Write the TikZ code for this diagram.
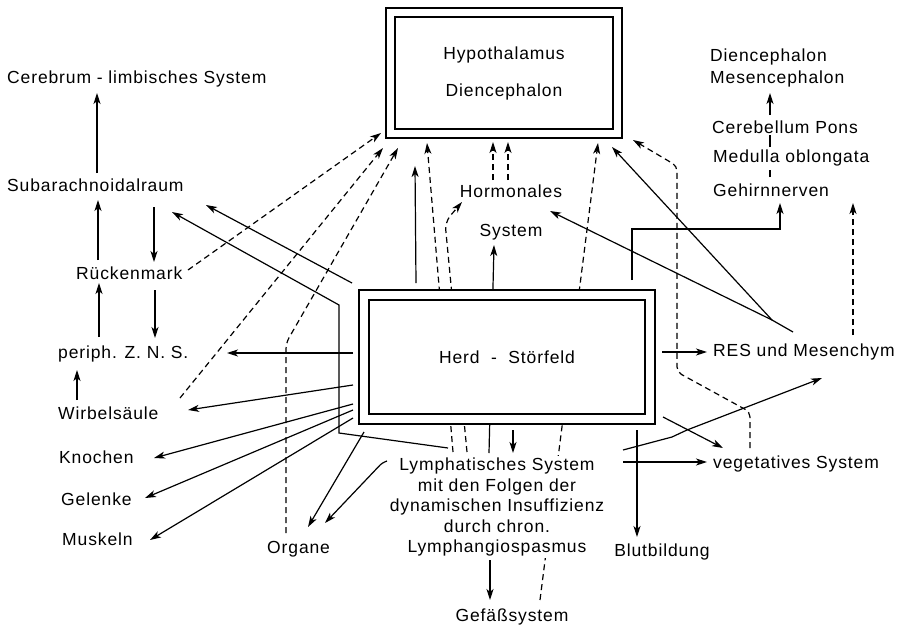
\documentclass[tikz,border=0pt]{standalone}
\usepackage{fontspec}
\setmainfont{Liberation Sans}[LetterSpace=5]
\usetikzlibrary{arrows.meta,calc}
\pgfdeclarelayer{bg}
\pgfsetlayers{bg,main}
\begin{document}
\begin{tikzpicture}[x=1pt,y=-1pt,
  txt/.style={inner sep=2pt, font=\fontsize{17.5}{20}\selectfont},
  ln/.style={line width=1.2pt},
  arr/.style={ln,-{Stealth[length=11pt,width=7pt,inset=3pt]}},
  dsh/.style={dash pattern=on 6pt off 4pt},
  dbox/.style={draw, double, line width=1.3pt, fill=white, font=\fontsize{17.5}{20}\selectfont}
]
\useasboundingbox (0,0) rectangle (902,627);

% boxes
\node[dbox, double distance=7.7pt, minimum width=227pt, minimum height=121pt, align=center] (hyp) at (504,73) {Hypothalamus\\[17pt]Diencephalon};
\node[dbox, double distance=8.7pt, minimum width=286pt, minimum height=124pt] (herd) at (507,357) {Herd~ - ~Störfeld};

% left column
\node[txt, anchor=base west] (cer) at (5,83) {Cerebrum - limbisches System};
\node[txt, anchor=base west] (sub) at (5,191) {Subarachnoidalraum};
\node[txt, anchor=base west] (rue) at (74,279) {Rückenmark};
\node[txt, anchor=base west] (per) at (56,358) {periph. Z. N. S.};
\node[txt, anchor=base west] (wir) at (56,419) {Wirbelsäule};
\node[txt, anchor=base west] (kno) at (57,463) {Knochen};
\node[txt, anchor=base west] (gel) at (59,505) {Gelenke};
\node[txt, anchor=base west] (mus) at (60,545) {Muskeln};
\node[txt, anchor=base west] (org) at (265,553) {Organe};

% centre
\node[txt, anchor=base] (horm1) at (511,197) {Hormonales};
\node[txt, anchor=base] (horm2) at (511,236) {System};
\node[txt, align=center, fill=white, font=\fontsize{17.5}{20.5}\selectfont] (lym) at (497,507)
  {Lymphatisches System\\mit den Folgen der\\dynamischen Insuffizienz\\durch chron.\\Lymphangiospasmus};
\node[txt, anchor=base] (gef) at (512,621) {Gefäßsystem};
\node[txt, anchor=base] (blut) at (662,556) {Blutbildung};

% right column
\node[txt, anchor=base west] (dien) at (708,61) {Diencephalon};
\node[txt, anchor=base west] (mesen) at (708,83) {Mesencephalon};
\node[txt, anchor=base west] (cere) at (710,133) {Cerebellum Pons};
\node[txt, anchor=base west] (med) at (711,162) {Medulla oblongata};
\node[txt, anchor=base west] (geh) at (711,196) {Gehirnnerven};
\node[txt, anchor=base west] (res) at (711,356) {RES und Mesenchym};
\node[txt, anchor=base west] (veg) at (711,468) {vegetatives System};

\coordinate (rtop) at (853,203);
\coordinate (s1top) at (415,166);
\coordinate (resj) at ($(res.base west)+(61,-36)$);

% lines passing behind boxes and text
\begin{pgfonlayer}{bg}
\fill[white] (0,0) rectangle (902,627);
\draw[arr,dsh] ($(lym.center)+(-44,-55)$) -- ($(hyp.center)+(-77,70)$);
\draw[arr,dsh,rounded corners=8pt] ($(lym.center)+(-30,-55)$) -- ($(herd.center)+(-62,-135)$) -- ($(horm1.base)+(-49,5)$);
\draw[arr,dsh] ($(gef.base)+(28,-21)$) -- ($(hyp.center)+(94,70)$);
\draw[arr] ($(lym.center)+(-8,-54)$) -- ($(horm2.base)+(-17,9)$);
\end{pgfonlayer}

% left column chain
\draw[arr] ($(sub.base west)+(92,-18)$) -- ($(cer.base west)+(92,10)$);
\draw[arr] ($(rue.base west)+(24,-19)$) -- ($(sub.base west)+(93,9)$);
\draw[arr] ($(sub.base west)+(149,16)$) -- ($(rue.base west)+(80,-17)$);
\draw[arr] ($(rue.base west)+(81,11)$) -- ($(per.base west)+(99,-20)$);
\draw[arr] ($(per.base west)+(43,-21)$) -- ($(rue.base west)+(25,4)$);
\draw[arr] ($(wir.base west)+(21,-19)$) -- ($(per.base west)+(21,12)$);

% Herd to the left
\draw[arr] ($(herd.center)+(-154,-4)$) -- ($(per.base west)+(171,-5)$);
\draw[arr] ($(herd.center)+(-154,28)$) -- ($(wir.base west)+(132,-9)$);
\draw[arr] ($(herd.center)+(-154,47)$) -- ($(kno.base west)+(97,-5)$);
\draw[arr] ($(herd.center)+(-154,53)$) -- ($(gel.base west)+(86,-7)$);
\draw[arr] ($(herd.center)+(-154,61)$) -- ($(mus.base west)+(90,-5)$);
\draw[arr] ($(herd.center)+(-143,75)$) -- ($(org.base west)+(43,-26)$);
\draw[arr,rounded corners=3pt] ($(lym.center)+(-110,-46)$) -- ($(lym.center)+(-115,-44)$) -- ($(org.base west)+(60,-30)$);
\draw[arr] ($(herd.center)+(-155,-74)$) -- ($(sub.base west)+(201,14)$);
\draw[arr] ($(lym.center)+(-49,-59)$) -- ($(herd.center)+(-168,76)$) -- ($(herd.center)+(-168,-52)$) -- ($(sub.base west)+(167,21)$);

% dashed to Hypothalamus
\draw[arr,dsh] ($(rue.base west)+(114,-9)$) -- ($(hyp.center)+(-123,60)$);
\draw[arr,dsh] ($(wir.base west)+(124,-21)$) -- ($(hyp.center)+(-121,75)$);
\draw[arr,dsh,rounded corners=6pt] ($(org.base west)+(21,-20)$) -- ($(herd.center)+(-221,-14)$) -- ($(hyp.center)+(-106,75)$);
\draw[arr,dsh] ($(horm1.base)+(-18,-17)$) -- ($(hyp.center)+(-11,69)$);
\draw[arr,dsh] ($(horm1.base)+(-3,-17)$) -- ($(hyp.center)+(4,69)$);
\draw[arr,dsh,rounded corners=5pt] ($(veg.base west)+(39,-20)$) -- ($(herd.center)+(243,55)$) -- ($(herd.center)+(170,15)$) -- ($(herd.center)+(170,-191)$) -- ($(hyp.center)+(129,67)$);
\draw[arr,dsh] ($(res.base west)+(142,-21)$) -- (rtop);

% solid from Herd
\draw[arr] ($(herd.center)+(-91,-74)$) -- (s1top);
\draw[arr] ($(herd.center)+(6,73)$) -- ($(lym.center)+(16,-54)$);
\draw[arr] ($(lym.center)+(-7,53)$) -- ($(gef.base)+(-22,-21)$);
\draw[arr] ($(herd.center)+(125,-77)$) |- ($(geh.base west)+(69,33)$) -- ($(geh.base west)+(69,7)$);
\draw[ln] ($(res.base west)+(82,-24)$) -- (resj);
\draw[arr] (resj) -- ($(hyp.center)+(108,74)$);
\draw[arr] (resj) -- ($(horm1.base)+(39,14)$);
\draw[arr] ($(herd.center)+(155,-5)$) -- ($(res.base west)+(-4,-4)$);
\draw[arr] ($(herd.center)+(156,60)$) -- ($(veg.base west)+(12,-20)$);
\draw[arr] ($(lym.center)+(126,-45)$) -- ($(veg.base west)+(-4,-6)$);
\draw[arr] ($(lym.center)+(126,-57)$) -- ($(herd.center)+(165,80)$) -- ($(herd.center)+(180,73)$) -- ($(res.base west)+(111,22)$);
\draw[arr] ($(herd.center)+(130,73)$) -- ($(blut.base)+(-25,-19)$);

% right column chain
\draw[arr] ($(cere.base west)+(60,-18)$) -- ($(mesen.base west)+(62,10)$);
\draw[ln] ($(med.base west)+(59,-15)$) -- ($(cere.base west)+(60,2)$);
\draw[ln] ($(geh.base west)+(59,-19)$) -- ($(med.base west)+(59,8)$);
\end{tikzpicture}
\end{document}
